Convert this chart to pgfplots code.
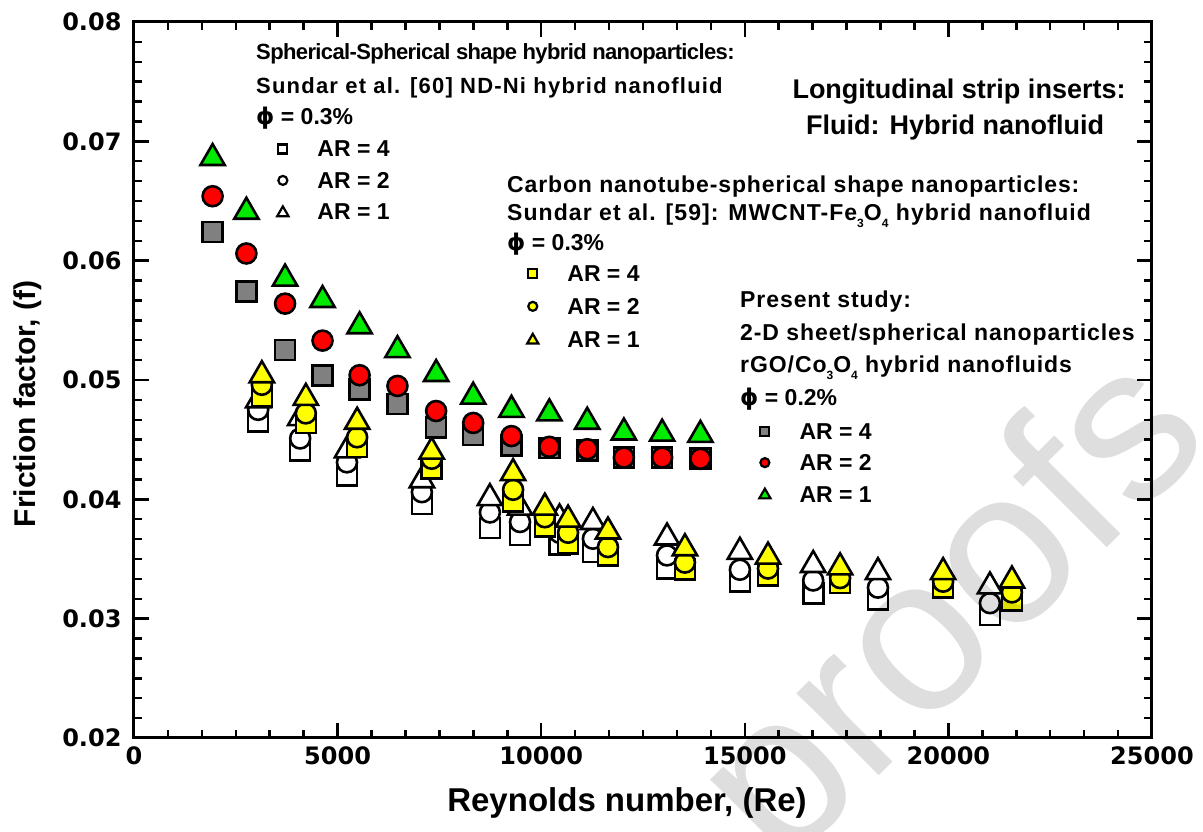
\documentclass[border=0pt]{standalone}
\usepackage{fontspec}
\usepackage{pgfplots}
\usepackage{pgfplotstable}
\pgfplotsset{compat=1.18}
\setmainfont{Liberation Sans}
\newfontfamily\phifont{DejaVu Sans}
\newfontfamily\tickfont{DejaVu Sans}

\newcommand{\lf}{\fontsize{23}{28}\selectfont\bfseries}
\newcommand{\ls}[1]{\addfontfeatures{LetterSpace=#1}}
\newcommand{\sub}[1]{\raisebox{-0.28em}{\fontsize{12}{12}\selectfont #1}}
\newcommand{\vphi}{{\phifont\bfseries ϕ}}

\definecolor{mkgray}{RGB}{128,128,128}
\definecolor{mkred}{RGB}{255,0,0}
\definecolor{mkgreen}{RGB}{0,235,0}
\definecolor{mkyellow}{RGB}{255,255,0}

% Sundar et al. [60], ND-Ni hybrid nanofluid, phi = 0.3 %
\pgfplotstableread{
Re     AR4     AR2     AR1
3050   0.0465  0.0475  0.0483
4080   0.0441  0.0451  0.0468
5230   0.0420  0.0431  0.0441
7070   0.0396  0.0406  0.0416
8740   0.0376  0.0389  0.0401
9480   0.0370  0.0381  0.0393
10450  0.0362  0.0372  0.0384
11270  0.0356  0.0367  0.0381
13090  0.0342  0.0353  0.0368
14880  0.0331  0.0341  0.0356
16680  0.0321  0.0332  0.0345
18270  0.0316  0.0326  0.0339
21020  0.0303  0.0313  0.0327
}\ndni

% Sundar et al. [59], MWCNT-Fe3O4 hybrid nanofluid, phi = 0.3 %
\pgfplotstableread{
Re     AR4     AR2     AR1
3140   0.0486  0.0496  0.0504
4220   0.0464  0.0472  0.0485
5480   0.0444  0.0452  0.0465
7310   0.0426  0.0434  0.0440
9310   0.0398  0.0408  0.0422
10090  0.0377  0.0385  0.0393
10660  0.0363  0.0372  0.0383
11640  0.0353  0.0360  0.0373
13530  0.0341  0.0347  0.0359
15570  0.0336  0.0342  0.0352
17340  0.0330  0.0334  0.0343
19870  0.0326  0.0331  0.0339
21560  0.0315  0.0322  0.0332
}\mwcnt

% Present study, rGO/Co3O4 hybrid nanofluids, phi = 0.2 %
\pgfplotstableread{
Re     AR4     AR2     AR1
1930   0.0624  0.0654  0.0686
2760   0.0574  0.0606  0.0641
3710   0.0525  0.0564  0.0585
4630   0.0504  0.0533  0.0567
5540   0.0492  0.0504  0.0545
6470   0.0480  0.0495  0.0525
7420   0.0460  0.0474  0.0505
8330   0.0454  0.0464  0.0486
9270   0.0445  0.0453  0.0475
10200  0.0443  0.0444  0.0472
11130  0.0441  0.0442  0.0465
12030  0.0435  0.0435  0.0456
12970  0.0435  0.0435  0.0455
13910  0.0434  0.0434  0.0454
}\present

\pgfplotsset{
  frame/.style={at={(134pt,94pt)}, anchor=south west, scale only axis,
    width=1018pt, height=716pt, xmin=0, xmax=25000, ymin=0.02, ymax=0.08},
  sq/.style={only marks, mark=square*, mark size=10pt,
    mark options={solid, draw=black, fill=#1, line width=2.6pt}},
  ci/.style={only marks, mark=*, mark size=10pt,
    mark options={solid, draw=black, fill=#1, line width=2.6pt}},
  tr/.style={only marks, mark=triangle*, mark size=14pt,
    mark options={solid, draw=black, fill=#1, line width=2.6pt}},
  legsq/.style={only marks, mark=square*, mark size=4.5pt,
    mark options={solid, draw=black, fill=#1, line width=2.2pt},
    legend image code/.code={\draw[##1] plot coordinates {(0pt,0pt)};}},
  legci/.style={only marks, mark=*, mark size=4.5pt,
    mark options={solid, draw=black, fill=#1, line width=2.2pt},
    legend image code/.code={\draw[##1] plot coordinates {(0pt,0pt)};}},
  legtr/.style={only marks, mark=triangle*, mark size=6.5pt,
    mark options={solid, draw=black, fill=#1, line width=2.2pt},
    legend image code/.code={\draw[##1] plot coordinates {(0pt,-1pt)};}},
  leg/.style={legend style={draw=none, fill=none, inner sep=0pt,
    row sep=#1, column sep=29pt, anchor=north west,
    nodes={inner sep=0pt, text height=16pt, text depth=0pt, font=\lf}},
    legend cell align=left},
}

\begin{document}
\begin{tikzpicture}
\path[use as bounding box] (0,0) rectangle (1203pt,832pt);

% ND-Ni data, frame, ticks and labels
\begin{axis}[frame, leg=15.5pt,
  legend style={at={(0.1405,0.8342)}},
  xtick={0,5000,10000,15000,20000,25000},
  ytick={0.02,0.03,0.04,0.05,0.06,0.07,0.08},
  minor x tick num=5, minor y tick num=5,
  tick align=inside, major tick length=15pt, minor tick length=8pt,
  tick style={black, line width=2.5pt},
  axis line style={line width=3pt},
  scaled ticks=false,
  /pgf/number format/assume math mode=true,
  ticklabel style={font=\fontsize{24}{24}\tickfont\bfseries},
  yticklabel style={xshift=-9pt, /pgf/number format/.cd, fixed, fixed zerofill, precision=2},
  xticklabel style={yshift=-5pt, /pgf/number format/set thousands separator={}},
  xlabel={Reynolds number, (Re)}, ylabel={Friction factor, (f)},
  xlabel style={font=\fontsize{33}{33}\selectfont\bfseries,
    at={(axis description cs:0.4843,-0.0908)}, anchor=center},
  ylabel style={font=\fontsize{30}{30}\selectfont\bfseries,
    at={(axis description cs:-0.1041,0.4665)}, anchor=center},
]
\addplot[sq=white, forget plot] table[x=Re, y=AR4] {\ndni};
\addplot[ci=white, forget plot] table[x=Re, y=AR2] {\ndni};
\addplot[tr=white, forget plot] table[x=Re, y=AR1] {\ndni};
\addlegendimage{legsq=white}\addlegendentry{AR = 4}
\addlegendimage{legci=white}\addlegendentry{AR = 2}
\addlegendimage{legtr=white}\addlegendentry{AR = 1}
\end{axis}

% MWCNT-Fe3O4 data
\begin{axis}[frame, hide axis, leg=17pt, legend style={at={(0.386,0.6604)}}]
\addplot[sq=mkyellow, forget plot] table[x=Re, y=AR4] {\mwcnt};
\addplot[ci=mkyellow, forget plot] table[x=Re, y=AR2] {\mwcnt};
\addplot[tr=mkyellow, forget plot] table[x=Re, y=AR1] {\mwcnt};
\addlegendimage{legsq=mkyellow}\addlegendentry{AR = 4}
\addlegendimage{legci=mkyellow}\addlegendentry{AR = 2}
\addlegendimage{legtr=mkyellow}\addlegendentry{AR = 1}
\end{axis}

% present study
\begin{axis}[frame, hide axis, leg=15.5pt, legend style={at={(0.614,0.440)}}]
\addplot[sq=mkgray, forget plot] table[x=Re, y=AR4] {\present};
\addplot[ci=mkred, forget plot] table[x=Re, y=AR2] {\present};
\addplot[tr=mkgreen, forget plot] table[x=Re, y=AR1] {\present};
\addlegendimage{legsq=mkgray}\addlegendentry{AR = 4}
\addlegendimage{legci=mkred}\addlegendentry{AR = 2}
\addlegendimage{legtr=mkgreen}\addlegendentry{AR = 1}
\end{axis}

% headings of the three data groups
\begin{scope}[every node/.style={inner sep=0pt, anchor=base west, font=\lf}]
\node[font=\fontsize{22}{26}\selectfont\bfseries\ls{-2.8}] at (256pt,772pt)
  {Spherical-Spherical shape hybrid nanoparticles:};
\node[font=\fontsize{22}{26}\selectfont\bfseries\ls{5.5}] at (256pt,738pt)
  {Sundar et al. [60] ND-Ni hybrid nanofluid};
\node at (256pt,707pt) {\vphi\ = 0.3\%};
\node[font=\lf\ls{3.8}] at (507pt,639pt) {Carbon nanotube-spherical shape nanoparticles:};
\node[font=\lf\ls{4.6}] at (507pt,611pt) {Sundar et al. [59]: MWCNT-Fe\sub{3}O\sub{4} hybrid nanofluid};
\node at (507pt,581pt) {\vphi\ = 0.3\%};
\node[font=\lf\ls{4}] at (740pt,524pt) {Present study:};
\node[font=\lf\ls{4}] at (740pt,491pt) {2-D sheet/spherical nanoparticles};
\node[font=\lf\ls{4}] at (740pt,459pt) {rGO/Co\sub{3}O\sub{4} hybrid nanofluids};
\node at (740pt,426pt) {\vphi\ = 0.2\%};
\end{scope}
\node[inner sep=0pt, anchor=base, font=\fontsize{27}{30}\selectfont\bfseries]
  at (959pt,733pt) {Longitudinal strip inserts:};
\node[inner sep=0pt, anchor=base, font=\fontsize{27}{30}\selectfont\bfseries]
  at (955pt,697pt) {Fluid: Hybrid nanofluid};

% page watermark
\node[inner sep=0pt, anchor=base east, rotate=45, text=black, text opacity=0.13,
  font=\fontsize{220}{220}\selectfont] at (1215pt,392pt) {Pre-proofs};
\end{tikzpicture}
\end{document}
